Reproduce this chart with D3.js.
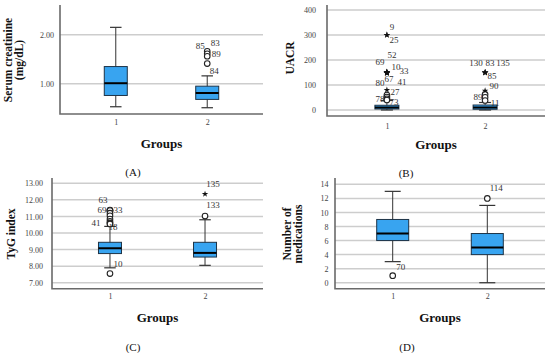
<!DOCTYPE html>
<html>
<head>
<meta charset="utf-8">
<script src="https://cdn.jsdelivr.net/npm/d3@7"></script>
<style>
  body { margin: 0; background: #fff; }
  svg { display: block; }
  text { font-family: "Liberation Serif", "DejaVu Serif", serif; }
</style>
</head>
<body>
<svg id="chart" width="550" height="353"></svg>
<script>
var groups = ["1", "2"];

// [low whisker, Q1, median, Q3, high whisker] per group
var creatinineBoxes = [[0.53, 0.76, 1.01, 1.35, 2.15], [0.51, 0.68, 0.81, 0.95, 1.16]];
// [group index, value, symbol, case label]
var creatinineOutliers = [[1, 1.66, "o", "83"], [1, 1.61, "o", "85"], [1, 1.56, "o", "89"], [1, 1.41, "o", "84"]];
var creatinineTicks = [1, 2];

var uacrBoxes = [[0, 4, 10, 19, 38], [0, 3, 10, 20, 30]];
var uacrOutliers = [
  [0, 300, "*", "9"], [0, 300, "*", "25"],
  [0, 152, "*", "52"], [0, 151, "*", "69"], [0, 150, "*", "10"], [0, 150, "*", "33"],
  [0, 149, "*", "67"], [0, 148, "*", "80"], [0, 147, "*", "41"],
  [0, 80, "*", "27"], [0, 60, "o", ""], [0, 52, "o", ""], [0, 45, "o", "78"], [0, 40, "o", "73"],
  [1, 150, "*", "130"], [1, 150, "*", "83"], [1, 150, "*", "135"], [1, 149, "*", "85"],
  [1, 77, "*", "90"], [1, 63, "o", ""], [1, 51, "o", "89"], [1, 38, "o", "11"]
];
var uacrTicks = [0, 100, 200, 300, 400];

var tygBoxes = [[7.9, 8.76, 9.08, 9.44, 10.4], [8.05, 8.55, 8.8, 9.44, 10.8]];
var tygOutliers = [
  [0, 11.38, "o", "63"], [0, 11.36, "o", "69"], [0, 11.36, "o", "33"], [0, 11.2, "o", ""],
  [0, 11.04, "o", ""], [0, 10.84, "o", ""], [0, 10.7, "o", ""], [0, 10.6, "o", "41"],
  [0, 10.55, "o", "18"], [0, 7.55, "o", "10"],
  [1, 12.35, "*", "135"], [1, 11.02, "o", "133"]
];
var tygTicks = [7, 8, 9, 10, 11, 12, 13];

var medsBoxes = [[3, 6, 7, 9, 13], [0, 4, 5, 7, 11]];
var medsOutliers = [[0, 1, "o", "70"], [1, 12, "o", "114"]];
var medsTicks = [0, 2, 4, 6, 8, 10, 12, 14];

// pixel nudges for the case labels, keyed by label
var nudgeA = { "83": [8, -8], "85": [-7, -8], "89": [9, -2], "84": [7, 7] };
var nudgeB = {
  "0": { "9": [5, -8], "25": [7, 5], "52": [5, -17], "69": [-7, -10], "10": [9, -6], "33": [17, -2],
         "67": [2, 6], "80": [-7, 10], "41": [15, 9], "27": [8, 2], "78": [-7, 0], "73": [7, 2] },
  "1": { "130": [-9, -10], "83": [5, -10], "135": [18, -10], "85": [7, 3], "90": [9, -5], "89": [-7, 0], "11": [10, 2] }
};
var nudgeC = {
  "0": { "63": [-7, -10], "69": [-8, 0], "33": [8, 0], "41": [-14, 0], "18": [3, 3], "10": [8, -10] },
  "1": { "135": [8, -10], "133": [8, -11] }
};
var nudgeD = { "70": [8, -9], "114": [9, -10] };

var svg = d3.select("#chart");

var panels = [
  { boxes: creatinineBoxes, outliers: creatinineOutliers, ticks: creatinineTicks, fmt: d3.format(".2f"),
    left: 60, right: 263, top: 5, bottom: 114, domain: [0.382, 2.606], boxW: 23, tickGap: 6, xTickDy: 8,
    groupsY: 143, letter: "(A)", letterX: 133, letterY: 172,
    title: ["Serum creatinine", "(mg/dL)"], titleX: 13, titleY: 60,
    nudge: function(o) { return nudgeA[o[3]]; } },
  { boxes: uacrBoxes, outliers: uacrOutliers, ticks: uacrTicks, fmt: d3.format("d"),
    left: 327, right: 545, top: 5, bottom: 116, domain: [-24, 420], boxW: 24, tickGap: 11, xTickDy: 10.5,
    groupsY: 144, letter: "(B)", letterX: 406, letterY: 173,
    title: ["UACR"], titleX: 290, titleY: 58,
    nudge: function(o) { return nudgeB[o[0]][o[3]]; } },
  { boxes: tygBoxes, outliers: tygOutliers, ticks: tygTicks, fmt: d3.format(".2f"),
    left: 52, right: 263, top: 178, bottom: 288.7, domain: [6.64, 13.32], boxW: 23, tickGap: 9, xTickDy: 8,
    groupsY: 317.7, letter: "(C)", letterX: 133, letterY: 346.5,
    title: ["TyG index"], titleX: 11, titleY: 234,
    nudge: function(o) { return nudgeC[o[0]][o[3]]; } },
  { boxes: medsBoxes, outliers: medsOutliers, ticks: medsTicks, fmt: d3.format("d"),
    left: 335, right: 545, top: 178, bottom: 288.7, domain: [-0.85, 14.9], boxW: 32, tickGap: 6.5, xTickDy: 8,
    groupsY: 317.7, letter: "(D)", letterX: 407, letterY: 346.5,
    title: ["Number of", "medications"], titleX: 292.5, titleY: 234,
    nudge: function(o) { return nudgeD[o[3]]; } }
];

var star = d3.symbol().type(d3.symbolStar).size(13);

panels.forEach(function(p) {
  var x = d3.scalePoint().domain(groups).range([p.left, p.right]).padding(0.61);
  var y = d3.scaleLinear().domain(p.domain).range([p.bottom, p.top]);
  var g = svg.append("g");

  // grid lines
  g.selectAll(".grid").data(p.ticks).enter().append("line")
    .attr("x1", p.left).attr("x2", p.right)
    .attr("y1", function(d) { return y(d); }).attr("y2", function(d) { return y(d); })
    .attr("stroke", "#cdcdcd").attr("stroke-width", 1.5);

  // y axis
  var yAxis = d3.axisLeft(y).tickValues(p.ticks).tickFormat(p.fmt).tickSize(0).tickPadding(p.tickGap);
  var ya = g.append("g").attr("transform", "translate(" + p.left + ",0)").call(yAxis);
  ya.select(".domain").remove();
  ya.selectAll("text").attr("fill", "#444").style("font-size", "8px")
    .style("font-family", "'Liberation Serif', serif");

  // x axis
  var xAxis = d3.axisBottom(x).tickSize(0).tickPadding(p.xTickDy - 3);
  var xa = g.append("g").attr("transform", "translate(0," + p.bottom + ")").call(xAxis);
  xa.select(".domain").remove();
  xa.selectAll("text").attr("fill", "#444").style("font-size", "8px")
    .style("font-family", "'Liberation Serif', serif");

  g.append("path")
    .attr("d", "M" + p.left + "," + p.top + "V" + p.bottom + "H" + p.right)
    .attr("fill", "none").attr("stroke", "#6a6a6a").attr("stroke-width", 1.6);

  // boxes
  var bw = p.boxW;
  var box = g.selectAll(".box").data(p.boxes).enter().append("g");
  box.append("line")
    .attr("x1", function(d, i) { return x(groups[i]); }).attr("x2", function(d, i) { return x(groups[i]); })
    .attr("y1", function(d) { return y(d[0]); }).attr("y2", function(d) { return y(d[4]); })
    .attr("stroke", "#333").attr("stroke-width", 1);
  [0, 4].forEach(function(k) {
    box.append("line")
      .attr("x1", function(d, i) { return x(groups[i]) - bw / 4; })
      .attr("x2", function(d, i) { return x(groups[i]) + bw / 4; })
      .attr("y1", function(d) { return y(d[k]); }).attr("y2", function(d) { return y(d[k]); })
      .attr("stroke", "#333").attr("stroke-width", 1.2);
  });
  box.append("rect")
    .attr("x", function(d, i) { return x(groups[i]) - bw / 2; })
    .attr("width", bw)
    .attr("y", function(d) { return y(d[3]); })
    .attr("height", function(d) { return y(d[1]) - y(d[3]); })
    .attr("fill", "#38a4f0").attr("stroke", "#1d3347").attr("stroke-width", 1);
  box.append("line")
    .attr("x1", function(d, i) { return x(groups[i]) - bw / 2; })
    .attr("x2", function(d, i) { return x(groups[i]) + bw / 2; })
    .attr("y1", function(d) { return y(d[2]); }).attr("y2", function(d) { return y(d[2]); })
    .attr("stroke", "#000").attr("stroke-width", 2);

  // outliers
  var pts = g.selectAll(".out").data(p.outliers).enter();
  pts.filter(function(d) { return d[2] === "o"; }).append("circle")
    .attr("cx", function(d) { return x(groups[d[0]]); })
    .attr("cy", function(d) { return y(d[1]); })
    .attr("r", 2.8).attr("fill", "#fff").attr("stroke", "#222").attr("stroke-width", 1.1);
  pts.filter(function(d) { return d[2] === "*"; }).append("path")
    .attr("d", star)
    .attr("transform", function(d) { return "translate(" + x(groups[d[0]]) + "," + y(d[1]) + ")"; })
    .attr("fill", "#111");

  g.selectAll(".lab").data(p.outliers.filter(function(d) { return d[3] !== ""; })).enter().append("text")
    .attr("x", function(d) { return x(groups[d[0]]) + p.nudge(d)[0]; })
    .attr("y", function(d) { return y(d[1]) + p.nudge(d)[1]; })
    .attr("text-anchor", "middle").attr("dominant-baseline", "central")
    .attr("fill", "#333").style("font-size", "9px")
    .text(function(d) { return d[3]; });

  // axis titles
  g.append("text")
    .attr("x", (p.left + p.right) / 2).attr("y", p.groupsY)
    .attr("text-anchor", "middle").attr("dominant-baseline", "central")
    .style("font-size", "13px").style("font-weight", "bold").attr("fill", "#111")
    .text("Groups");

  g.append("text")
    .attr("x", p.letterX).attr("y", p.letterY)
    .attr("text-anchor", "middle").attr("dominant-baseline", "central")
    .style("font-size", "11px").attr("fill", "#111")
    .text(p.letter);

  var t = g.append("text")
    .attr("transform", "translate(" + p.titleX + "," + p.titleY + ") rotate(-90)")
    .attr("text-anchor", "middle")
    .style("font-size", "11.5px").style("font-weight", "bold").attr("fill", "#111");
  p.title.forEach(function(line, i) {
    t.append("tspan").attr("x", 0).attr("y", (i - (p.title.length - 1) / 2) * 11)
      .attr("dominant-baseline", "central").text(line);
  });
});
</script>
</body>
</html>
